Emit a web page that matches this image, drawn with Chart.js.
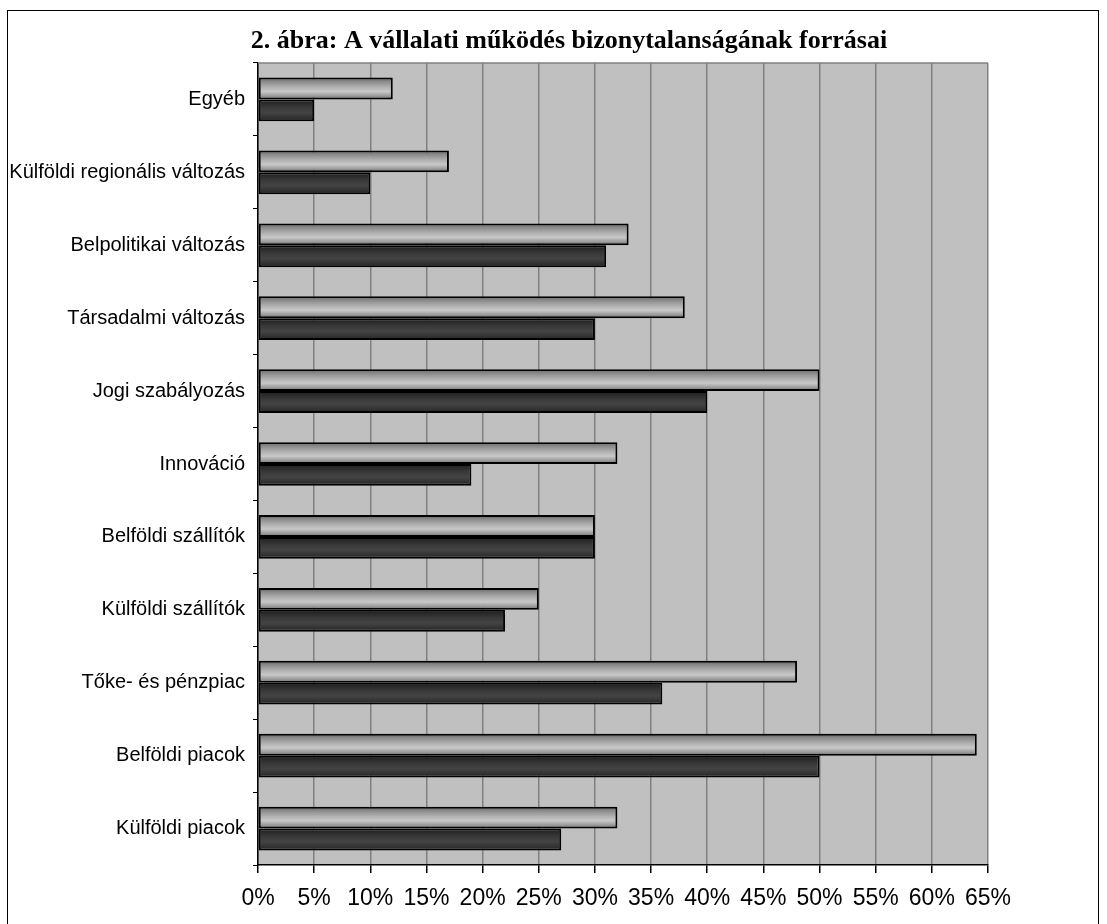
<!DOCTYPE html>
<html lang="hu">
<head>
<meta charset="utf-8">
<title>A vállalati működés bizonytalanságának forrásai</title>
<script src="https://cdn.jsdelivr.net/npm/chart.js@4/dist/chart.umd.min.js"></script>
<style>
  html, body { margin: 0; padding: 0; background: #ffffff; }
  canvas { display: block; }
</style>
</head>
<body>
<canvas id="chart" width="1107" height="924"></canvas>
<script>
// Források (kategóriák), felülről lefelé
const categories = [
  'Egyéb',
  'Külföldi regionális változás',
  'Belpolitikai változás',
  'Társadalmi változás',
  'Jogi szabályozás',
  'Innováció',
  'Belföldi szállítók',
  'Külföldi szállítók',
  'Tőke- és pénzpiac',
  'Belföldi piacok',
  'Külföldi piacok'
];

// Említések aránya (%), világos és sötét sorozat
const seriesLight = [12, 17, 33, 38, 50, 32, 30, 25, 48, 64, 32];
const seriesDark  = [5, 10, 31, 30, 40, 19, 30, 22, 36, 50, 27];

// Vízszintes tengely osztásai (%)
const xTickValues = [0, 5, 10, 15, 20, 25, 30, 35, 40, 45, 50, 55, 60, 65];

const chartTitle = '2. ábra: A vállalati működés bizonytalanságának forrásai';

// Henger-hatású színátmenetek a sávokhoz (felülről lefelé)
const lightStops = [[0, '#5e5e5e'], [0.18, '#8a8a8a'], [0.45, '#b2b2b2'], [0.64, '#c8c8c8'], [0.84, '#9a9a9a'], [1, '#6a6a6a']];
const darkStops  = [[0, '#1c1c1c'], [0.35, '#383838'], [0.6, '#444444'], [1, '#242424']];

// Keret, cím és a rajzterület szürke háttere
const framePlugin = {
  id: 'frameAndTitle',
  beforeDraw(chart) {
    const { ctx, chartArea: a } = chart;
    ctx.save();
    ctx.fillStyle = '#ffffff';
    ctx.fillRect(0, 0, chart.width, chart.height);
    ctx.fillStyle = '#c0c0c0';
    ctx.fillRect(a.left, a.top, a.right - a.left, a.bottom - a.top);
    ctx.strokeStyle = '#000000';
    ctx.lineWidth = 1;
    ctx.strokeRect(7.5, 10.5, 1091, 1000);
    ctx.fillStyle = '#000000';
    ctx.font = 'bold 26px "Liberation Serif", "Times New Roman", serif';
    ctx.textAlign = 'center';
    ctx.textBaseline = 'alphabetic';
    ctx.fillText(chartTitle, 569, 48);
    ctx.restore();
  }
};

// Színátmenet beállítása minden sávra a saját helyzete szerint
const gradientPlugin = {
  id: 'barGradients',
  beforeDatasetsDraw(chart) {
    const { ctx, chartArea: a } = chart;
    chart.data.datasets.forEach((ds, i) => {
      const stops = i === 0 ? lightStops : darkStops;
      chart.getDatasetMeta(i).data.forEach(bar => {
        const top = bar.y - bar.height / 2;
        const g = ctx.createLinearGradient(0, top, 0, top + bar.height);
        stops.forEach(([o, c]) => g.addColorStop(o, c));
        bar.options.backgroundColor = g;
      });
    });
    // a rajzterület felső széle
    ctx.save();
    ctx.strokeStyle = '#808080';
    ctx.lineWidth = 1.5;
    ctx.beginPath();
    ctx.moveTo(a.left, a.top);
    ctx.lineTo(a.right, a.top);
    ctx.stroke();
    ctx.restore();
  }
};

new Chart(document.getElementById('chart'), {
  type: 'bar',
  data: {
    labels: categories,
    datasets: [
      {
        label: 'Világos sorozat',
        data: seriesLight,
        backgroundColor: () => '#b0b0b0',
        borderColor: '#000000',
        borderWidth: 2,
        borderSkipped: false
      },
      {
        label: 'Sötét sorozat',
        data: seriesDark,
        backgroundColor: () => '#3a3a3a',
        borderColor: '#000000',
        borderWidth: 2,
        borderSkipped: false
      }
    ]
  },
  options: {
    indexAxis: 'y',
    responsive: false,
    animation: false,
    devicePixelRatio: 1,
    categoryPercentage: 0.6,
    barPercentage: 1.0,
    layout: { padding: { top: 63, right: 119, bottom: 0, left: 0 } },
    plugins: {
      legend: { display: false },
      title: { display: false },
      tooltip: { enabled: false }
    },
    scales: {
      x: {
        type: 'linear',
        position: 'bottom',
        min: 0,
        max: 65,
        afterBuildTicks(axis) {
          axis.ticks = xTickValues.map(v => ({ value: v }));
        },
        afterFit(axis) { axis.height = 59; },
        grid: {
          color: '#808080',
          lineWidth: 1.5,
          tickColor: '#000000',
          tickLength: 8,
          drawOnChartArea: true
        },
        border: { color: '#000000', width: 1.5 },
        ticks: {
          color: '#000000',
          font: { family: '"Liberation Sans", Arial, sans-serif', size: 23 },
          padding: 12,
          maxRotation: 0,
          autoSkip: false,
          callback: v => v + '%'
        }
      },
      y: {
        type: 'category',
        afterFit(axis) { axis.width = 258; },
        grid: {
          display: true,
          drawOnChartArea: false,
          offset: true,
          color: '#000000',
          tickLength: 5
        },
        border: { color: '#000000', width: 1.5 },
        ticks: {
          color: '#000000',
          font: { family: '"Liberation Sans", Arial, sans-serif', size: 20 },
          padding: 8,
          autoSkip: false
        }
      }
    }
  },
  plugins: [framePlugin, gradientPlugin]
});
</script>
</body>
</html>
